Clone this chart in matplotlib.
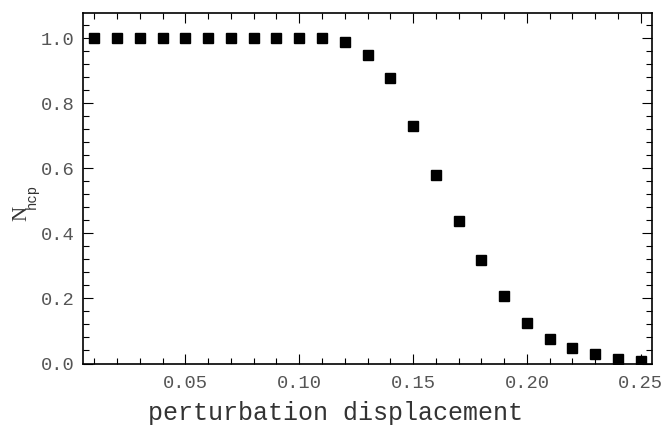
import matplotlib
matplotlib.use("Agg")
import matplotlib.pyplot as plt
from matplotlib.ticker import MultipleLocator

displacement = [0.01, 0.02, 0.03, 0.04, 0.05, 0.06, 0.07, 0.08, 0.09, 0.10,
                0.11, 0.12, 0.13, 0.14, 0.15, 0.16, 0.17, 0.18, 0.19, 0.20,
                0.21, 0.22, 0.23, 0.24, 0.25]
n_hcp = [1.0, 1.0, 1.0, 1.0, 1.0, 1.0, 1.0, 1.0, 1.0, 1.0,
         1.0, 0.989, 0.948, 0.877, 0.730, 0.578, 0.437, 0.317, 0.206, 0.124,
         0.076, 0.047, 0.028, 0.015, 0.008]

plt.rcParams["font.family"] = ["Liberation Mono", "DejaVu Sans"]

fig = plt.figure(figsize=(6.62, 4.28), dpi=100)
ax = fig.add_axes([0.1254, 0.1507, 0.8596, 0.8189])

ax.plot(displacement, n_hcp, linestyle="none", marker="s", markersize=7.5,
        color="black")

ax.set_xlim(0.005, 0.255)
ax.set_ylim(0, 1.077)
ax.xaxis.set_major_locator(MultipleLocator(0.05))
ax.xaxis.set_minor_locator(MultipleLocator(0.01))
ax.yaxis.set_major_locator(MultipleLocator(0.2))
ax.yaxis.set_minor_locator(MultipleLocator(0.04))
ax.xaxis.set_major_formatter(plt.FuncFormatter(lambda v, p: f"{v:.2f}"))
ax.yaxis.set_major_formatter(plt.FuncFormatter(lambda v, p: f"{v:.1f}"))

ax.tick_params(which="both", direction="in", top=True, right=True,
               labelsize=13.5, width=0.8, colors="black")
ax.tick_params(axis="x", pad=8)
ax.tick_params(axis="y", pad=6)
ax.tick_params(which="major", length=7)
ax.tick_params(which="minor", length=4)
for lbl in ax.get_xticklabels() + ax.get_yticklabels():
    lbl.set_color("#555555")
for s in ax.spines.values():
    s.set_linewidth(1.2)

# axis titles placed like the original
fig.text(336 / 662, 1 - 413 / 428, "perturbation displacement", fontsize=18,
         color="#333333", ha="center", va="center")
fig.text(22 / 662, 1 - 213 / 428, "N", fontsize=15, family="Liberation Serif",
         color="#333333", rotation=90, ha="center", va="center")
fig.text(31.5 / 662, 1 - 196 / 428, "hcp", fontsize=10, color="#333333",
         rotation=90, ha="center", va="center")

fig.savefig("out.png", dpi=100)
